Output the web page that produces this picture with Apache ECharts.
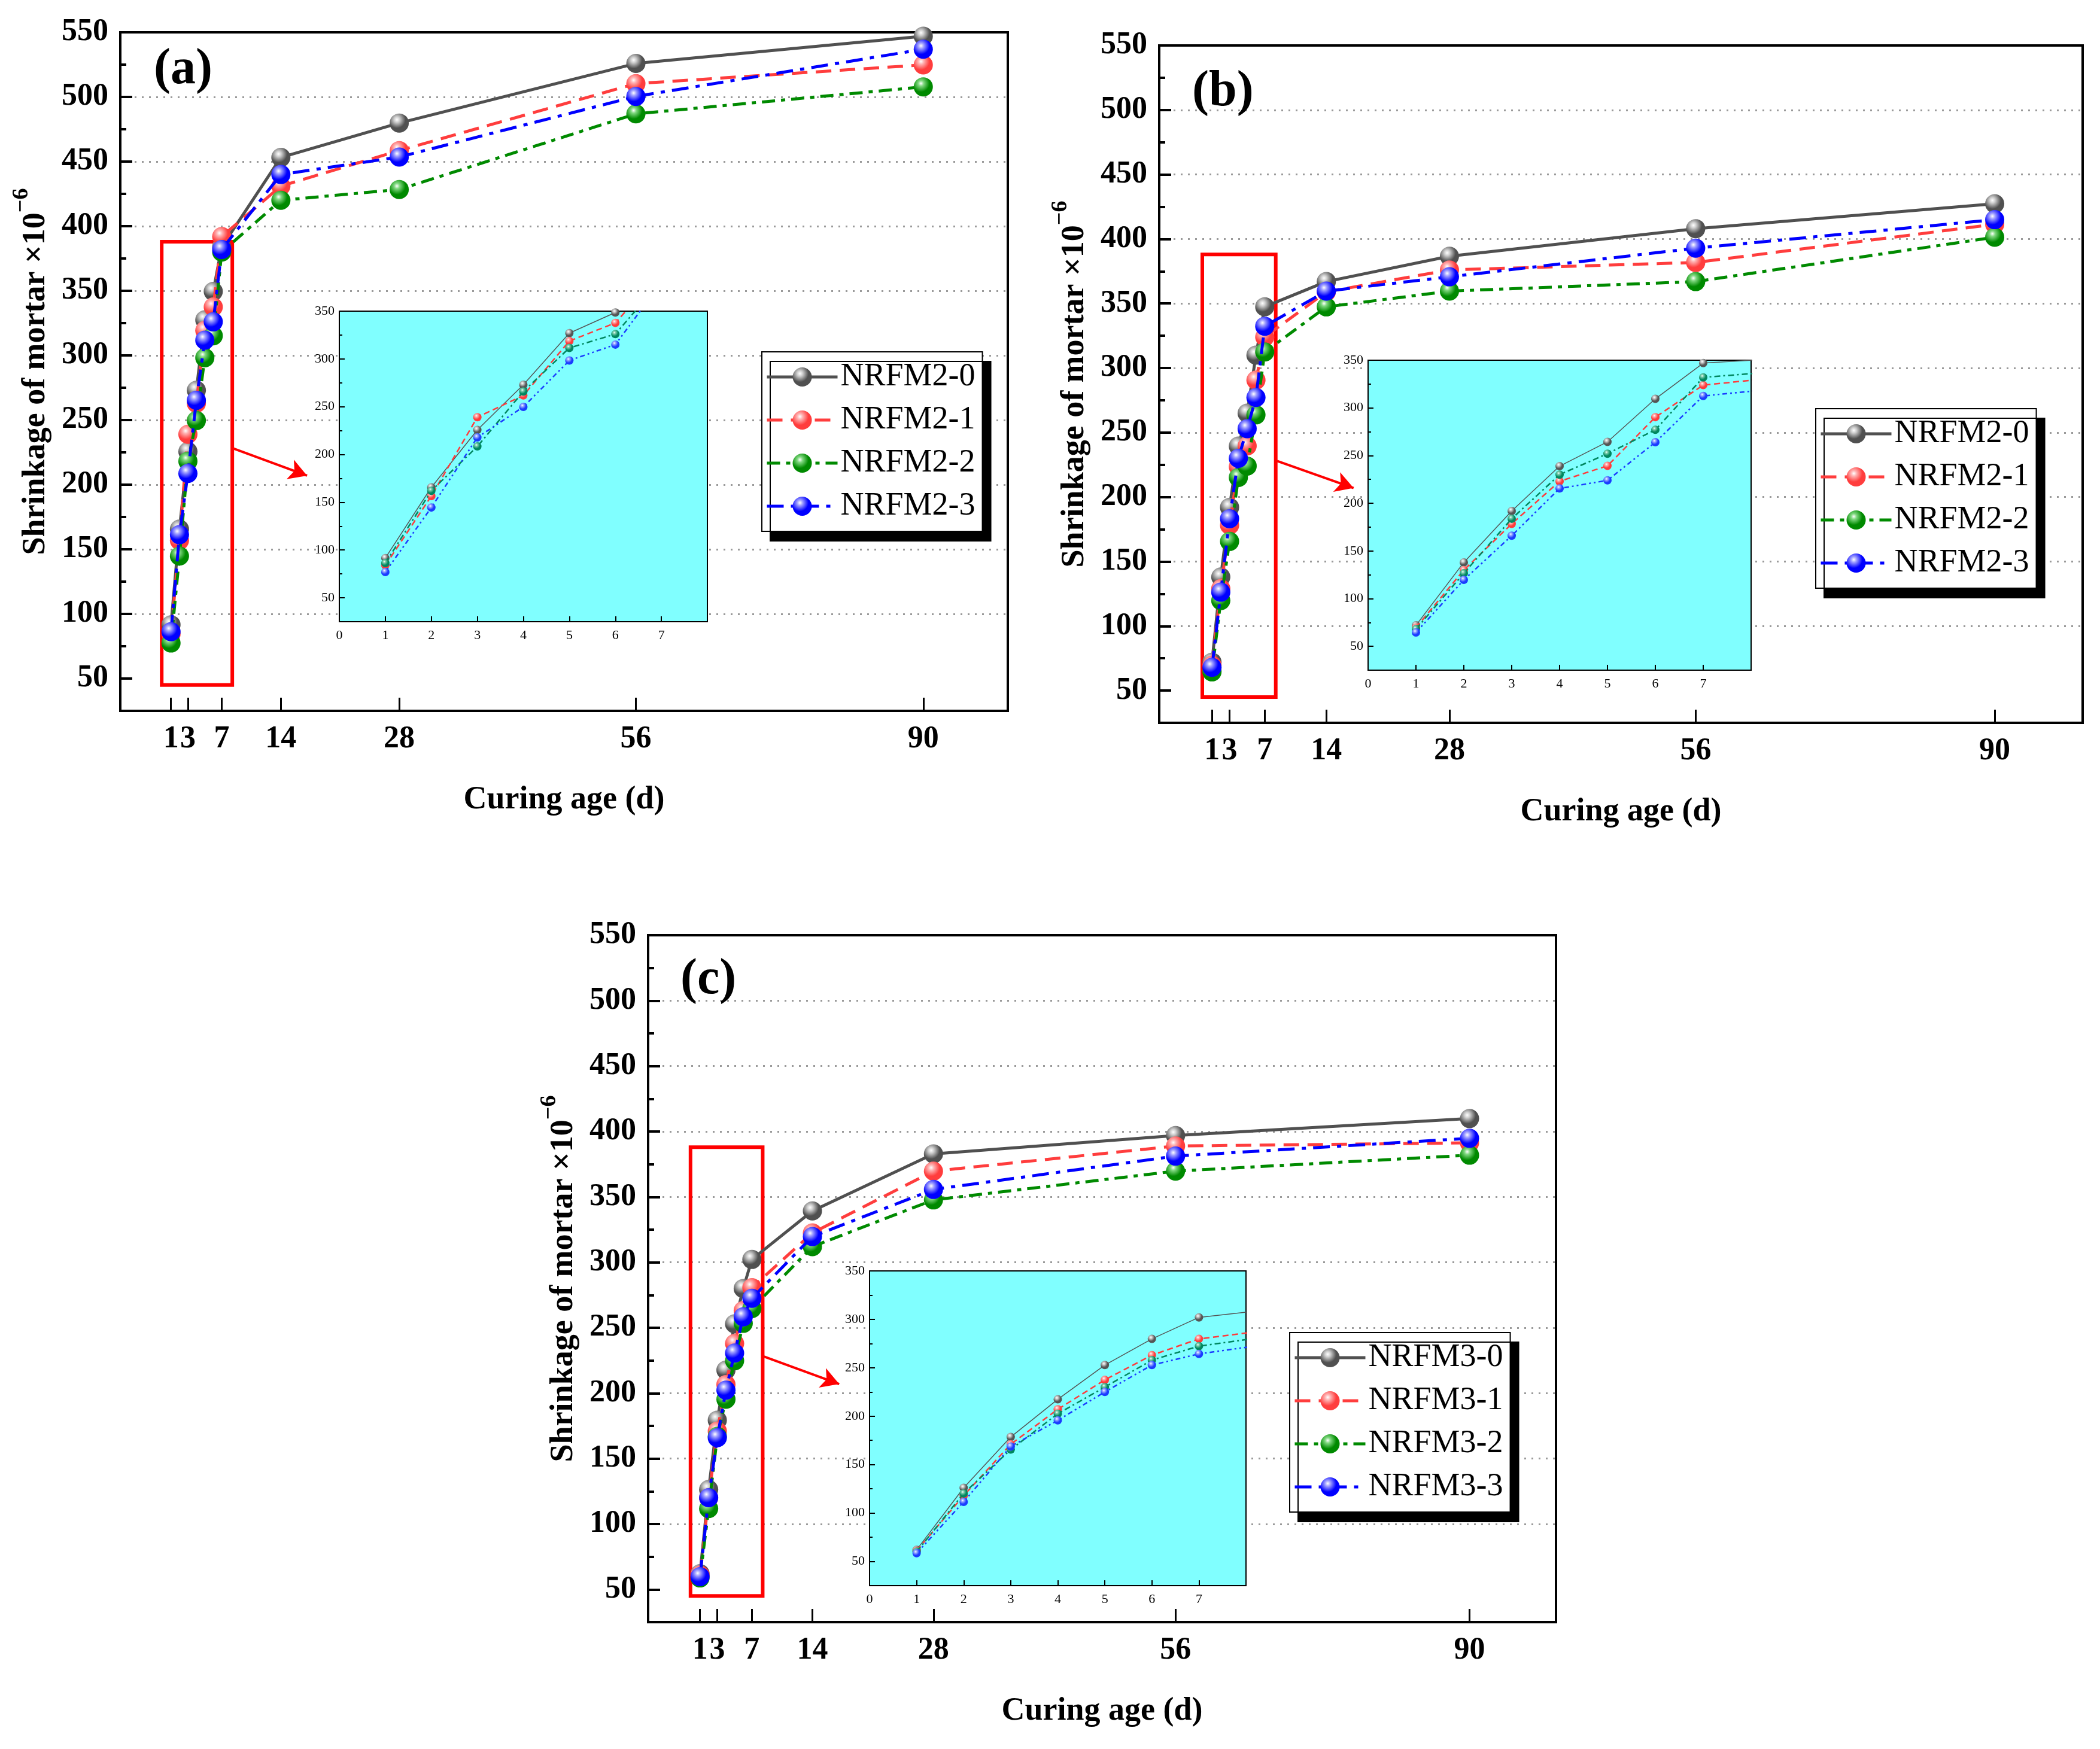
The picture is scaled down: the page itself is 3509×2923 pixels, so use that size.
<!DOCTYPE html>
<html>
<head>
<meta charset="utf-8">
<script src="https://cdn.jsdelivr.net/npm/echarts@6/dist/echarts.min.js"></script>
<style>
  html, body { margin: 0; padding: 0; background: #fff; }
  #chart { width: 3509px; height: 2923px; }
</style>
</head>
<body>
<div id="chart"></div>
<script>
// curing ages (d)
const days = [1, 2, 3, 4, 5, 6, 7, 14, 28, 56, 90]
const insetDays = [1, 2, 3, 4, 5, 6, 7, 14]
const xTickValues = [1, 3, 7, 14, 28, 56, 90]
const yMajor = [50, 100, 150, 200, 250, 300, 350, 400, 450, 500, 550]
const yMinor = [75, 125, 175, 225, 275, 325, 375, 425, 475, 525]
const insetXLabels = [0, 1, 2, 3, 4, 5, 6, 7]
const insetXTicks = [1, 2, 3, 4, 5, 6, 7]
const insetYMajor = [50, 100, 150, 200, 250, 300, 350]
const insetYMinor = [75, 125, 175, 225, 275, 325]

const namesA = ['NRFM2-0', 'NRFM2-1', 'NRFM2-2', 'NRFM2-3']
const namesC = ['NRFM3-0', 'NRFM3-1', 'NRFM3-2', 'NRFM3-3']

// (a) shrinkage x10^-6
const a0 = [91.6, 165.6, 225.7, 273, 327.5, 349.5, 384, 453.2, 479.8, 525.9, 547]
const a1 = [84.5, 156.8, 239, 263, 319.3, 337.5, 392, 431, 458.5, 510.3, 524.8]
const a2 = [77.5, 144.8, 218.2, 249.6, 298.2, 315.2, 380, 420, 428.4, 486.9, 507.8]
const a3 = [86.2, 161.3, 208.7, 265.3, 311.8, 326, 382, 440, 453.5, 500.4, 536.9]
// (a) inset
const ai0 = [91.6, 165.6, 225.7, 273, 327, 348.6, 384, 453.2]
const ai1 = [84, 156.5, 239, 261.8, 318.7, 337.7, 392, 431]
const ai2 = [86.3, 162, 208.4, 265.9, 311.5, 326, 382, 440]
const ai3 = [77, 144.5, 217.8, 249.8, 298.3, 315, 380, 420]

// (b)
const b0 = [72, 138, 192, 239.5, 265, 310, 347.5, 367, 386.6, 408, 427.3]
const b1 = [69.6, 129, 178.2, 223.5, 239.6, 290.6, 324, 359, 376, 381.8, 411.4]
const b2 = [64.5, 119.8, 165.6, 215.2, 224, 263.7, 312.4, 347.4, 359.6, 367, 401.4]
const b3 = [68, 126.3, 183.2, 230, 253, 277.2, 332.4, 359.6, 370.7, 392.9, 415]
// (b) inset
const bi0 = [72, 138, 191.9, 238.9, 264.4, 309.5, 347, 367]
const bi1 = [69.6, 130, 178.4, 223, 239.3, 290.3, 323.9, 359]
const bi2 = [68, 126.6, 183.8, 230, 252, 277, 332, 359.6]
const bi3 = [64.5, 119.7, 166, 215.5, 224, 264, 312.5, 347.4]

// (c)
const c0 = [62, 126.4, 179.4, 217.6, 253, 280, 302.2, 339.3, 382.9, 396.9, 409.9]
const c1 = [61, 120, 171, 206.6, 238, 263.2, 280.6, 322.5, 369.7, 388.9, 391.3]
const c2 = [58.8, 111.8, 167, 195.4, 224.8, 253.4, 264.7, 312, 347.7, 369.7, 381.9]
const c3 = [59.8, 120.1, 166, 202.3, 230.7, 258.4, 272.5, 319.7, 355.7, 381.2, 394.8]
// (c) inset
const ci0 = [62, 126, 178.5, 217.4, 252.8, 279.8, 302, 339.3]
const ci1 = [61, 118, 171, 207.1, 237.5, 263, 279.8, 322.5]
const ci2 = [60, 120.2, 165.5, 202.5, 230, 257.9, 272.3, 319.7]
const ci3 = [58.5, 111.5, 168.7, 195.7, 225, 252.8, 264.3, 312]

const chart = echarts.init(document.getElementById('chart'))
const FONT = '"Liberation Serif", "Times New Roman", serif'

function ball(c, light) {
  return new echarts.graphic.RadialGradient(0.38, 0.32, 0.72, [
    { offset: 0, color: '#ffffff' },
    { offset: 0.2, color: light },
    { offset: 0.62, color: c },
    { offset: 1, color: c },
  ])
}

const mainStyle = [
  { color: '#505050', light: '#cfcfcf', type: 'solid' },
  { color: '#ff3d3d', light: '#ffb3b3', type: [26, 14] },
  { color: '#008a00', light: '#80d880', type: [22, 10, 7, 10] },
  { color: '#0000ff', light: '#a0a0ff', type: [28, 12, 7, 12] },
]
const insetStyle = [
  { color: '#555555', light: '#d0d0d0', type: 'solid', width: 1.5 },
  { color: '#ff3b3b', light: '#ffb0b0', type: [10, 6], width: 2.5 },
  { color: '#00875f', light: '#80d0b0', type: [10, 5, 3, 5], width: 2.5 },
  { color: '#1a3cff', light: '#a0b0ff', type: [8, 5, 3, 5, 3, 5], width: 2.5 },
]

const panels = [
  {
    grid: { left: 201, top: 54, width: 1483, height: 1134 },
    inset: { left: 567, top: 520, width: 615, height: 519 },
    legend: { left: 1273, top: 588 },
    label: { text: '(a)', x: 257, y: 75 },
    names: namesA, main: [a0, a1, a2, a3], ins: [ai0, ai1, ai2, ai3],
  },
  {
    grid: { left: 1937, top: 76, width: 1543, height: 1132 },
    inset: { left: 2286, top: 602, width: 640, height: 518 },
    legend: { left: 3034, top: 683 },
    label: { text: '(b)', x: 1992, y: 112 },
    names: namesA, main: [b0, b1, b2, b3], ins: [bi0, bi1, bi2, bi3],
  },
  {
    grid: { left: 1083, top: 1563, width: 1517, height: 1148 },
    inset: { left: 1453, top: 2124, width: 629, height: 526 },
    legend: { left: 2155, top: 2227 },
    label: { text: '(c)', x: 1137, y: 1596 },
    names: namesC, main: [c0, c1, c2, c3], ins: [ci0, ci1, ci2, ci3],
  },
]

const grids = []
const xAxes = []
const yAxes = []
const series = []
const legends = []
const graphics = []

panels.forEach((p, pi) => {
  const gMain = grids.length
  grids.push(Object.assign({ show: true, borderColor: '#000', borderWidth: 4, backgroundColor: 'transparent' }, p.grid))
  xAxes.push({
    gridIndex: gMain, type: 'value', min: -5, max: 100,
    name: 'Curing age (d)', nameLocation: 'middle', nameGap: 122,
    nameTextStyle: { fontFamily: FONT, fontWeight: 'bold', fontSize: 54, color: '#000' },
    axisLine: { onZero: false, lineStyle: { color: '#000', width: 4 } },
    axisTick: { customValues: xTickValues, inside: true, length: 22, lineStyle: { color: '#000', width: 3 } },
    axisLabel: { customValues: xTickValues, margin: 22, fontFamily: FONT, fontWeight: 'bold', fontSize: 52, color: '#000' },
    splitLine: { show: false },
  })
  const yMain = yAxes.length
  yAxes.push({
    gridIndex: gMain, type: 'value', min: 25, max: 550, minInterval: 50, maxInterval: 50, position: 'left',
    name: '{m|Shrinkage of mortar \u00d710}{s|\u22126}', nameLocation: 'middle', nameGap: 114,
    nameTextStyle: {
      color: '#000',
      rich: {
        m: { fontFamily: FONT, fontWeight: 'bold', fontSize: 54, lineHeight: 70, verticalAlign: 'bottom' },
        s: { fontFamily: FONT, fontWeight: 'bold', fontSize: 38, lineHeight: 70, verticalAlign: 'top' },
      },
    },
    axisLine: { onZero: false, lineStyle: { color: '#000', width: 4 } },
    axisTick: { customValues: yMajor, inside: true, length: 20, lineStyle: { color: '#000', width: 4 } },
    axisLabel: { customValues: yMajor, margin: 20, fontFamily: FONT, fontWeight: 'bold', fontSize: 52, color: '#000' },
    splitLine: { show: true, showMinLine: false, showMaxLine: false, lineStyle: { color: '#9a9a9a', width: 3, type: [3, 9] } },
  })
  yAxes.push({
    gridIndex: gMain, type: 'value', min: 25, max: 550, position: 'left',
    axisLine: { show: false, onZero: false },
    axisTick: { customValues: yMinor, inside: true, length: 10, lineStyle: { color: '#000', width: 4 } },
    axisLabel: { show: false },
    splitLine: { show: false },
  })

  p.main.forEach((vals, k) => {
    const st = mainStyle[k]
    const s = {
      name: p.names[k], type: 'line', xAxisIndex: gMain, yAxisIndex: yMain,
      data: days.map((d, i) => [d, vals[i]]),
      symbol: 'circle', symbolSize: 32, z: 3 + k,
      lineStyle: { color: st.color, width: 5, type: st.type },
      itemStyle: { color: ball(st.color, st.light) },
      emphasis: { disabled: true },
    }
    if (k === 0) {
      s.markArea = {
        silent: true,
        itemStyle: { color: 'rgba(0,0,0,0)', borderColor: '#ff0000', borderWidth: 6 },
        data: [[{ coord: [-0.1, 45] }, { coord: [8.25, 388] }]],
      }
      s.markLine = {
        silent: true, symbol: ['none', 'arrow'], symbolSize: [26, 30],
        label: { show: false },
        lineStyle: { color: '#ff0000', width: 4, type: 'solid' },
        data: [[{ coord: [8.4, 228] }, { coord: [17.1, 207] }]],
      }
    }
    series.push(s)
  })

  // inset
  const gIns = grids.length
  grids.push(Object.assign({ show: true, borderColor: '#000', borderWidth: 2, backgroundColor: '#80ffff', z: 5 }, p.inset))
  xAxes.push({
    gridIndex: gIns, type: 'value', min: 0, max: 8, z: 6,
    axisLine: { onZero: false, lineStyle: { color: '#000', width: 2 } },
    axisTick: { customValues: insetXTicks, inside: true, length: 9, lineStyle: { color: '#000', width: 2 } },
    axisLabel: { customValues: insetXLabels, margin: 12, fontFamily: FONT, fontSize: 22, color: '#000' },
    splitLine: { show: false },
  })
  const yIns = yAxes.length
  yAxes.push({
    gridIndex: gIns, type: 'value', min: 25, max: 350, minInterval: 50, maxInterval: 50, position: 'left', z: 6,
    axisLine: { onZero: false, lineStyle: { color: '#000', width: 2 } },
    axisTick: { customValues: insetYMajor, inside: true, length: 9, lineStyle: { color: '#000', width: 2 } },
    axisLabel: { customValues: insetYMajor, margin: 8, fontFamily: FONT, fontSize: 22, color: '#000' },
    splitLine: { show: false },
  })
  yAxes.push({
    gridIndex: gIns, type: 'value', min: 25, max: 350, position: 'left', z: 6,
    axisLine: { show: false, onZero: false },
    axisTick: { customValues: insetYMinor, inside: true, length: 5, lineStyle: { color: '#000', width: 2 } },
    axisLabel: { show: false },
    splitLine: { show: false },
  })
  p.ins.forEach((vals, k) => {
    const st = insetStyle[k]
    series.push({
      name: 'inset-' + pi + '-' + k, type: 'line', xAxisIndex: gIns, yAxisIndex: yIns,
      data: insetDays.map((d, i) => [d, vals[i]]),
      symbol: 'circle', symbolSize: 14, z: 10 + k, clip: true,
      lineStyle: { color: st.color, width: st.width, type: st.type },
      itemStyle: { color: ball(st.color, st.light) },
      emphasis: { disabled: true },
    })
  })

  legends.push({
    left: p.legend.left, top: p.legend.top, orient: 'vertical',
    data: p.names.map((n, k) => ({
      name: n,
      lineStyle: { color: mainStyle[k].color, width: 5, type: mainStyle[k].type },
    })),
    selectedMode: false, itemWidth: 118, itemHeight: 40, itemGap: 18,
    padding: [15, 12, 15, 6],
    backgroundColor: '#fff', borderColor: '#000', borderWidth: 2,
    shadowColor: '#000', shadowBlur: 0, shadowOffsetX: 14, shadowOffsetY: 16,
    textStyle: { fontFamily: FONT, fontSize: 54, color: '#000' },
  })

  graphics.push({
    type: 'text', left: p.label.x, top: p.label.y, z: 20,
    style: { text: p.label.text, fontFamily: FONT, fontWeight: 'bold', fontSize: 84, fill: '#000' },
  })
})

chart.setOption({
  animation: false,
  backgroundColor: '#fff',
  grid: grids,
  xAxis: xAxes,
  yAxis: yAxes,
  legend: legends,
  series: series,
  graphic: graphics,
})
</script>
</body>
</html>
